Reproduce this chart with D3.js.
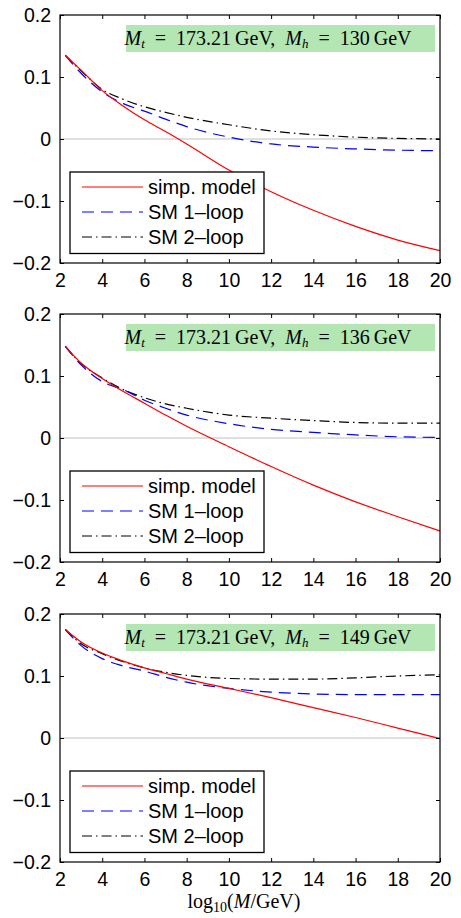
<!DOCTYPE html>
<html lang="en">
<head>
<meta charset="utf-8">
<title>Running couplings</title>
<script src="https://d3js.org/d3.v7.min.js"></script>
<style>
  body { margin: 0; background: #fff; }
  text { font-family: "Liberation Sans", Arial, sans-serif; }
  .serif { font-family: "Liberation Serif", "DejaVu Serif", serif; }
</style>
</head>
<body>
<div id="chart"></div>
<script>
// data
var logM = [2.25, 3, 4, 5, 6, 7, 8, 10, 12, 14, 16, 18, 20];

var simp130 = [0.135, 0.111, 0.078, 0.053, 0.031, 0.012, -0.008, -0.050, -0.085, -0.115, -0.141, -0.163, -0.180];
var sm1_130 = [0.135, 0.106, 0.076, 0.057, 0.045, 0.032, 0.020, 0.003, -0.008, -0.013, -0.016, -0.018, -0.019];
var sm2_130 = [0.135, 0.110, 0.080, 0.064, 0.052, 0.043, 0.035, 0.023, 0.013, 0.007, 0.003, 0.001, 0.000];

var simp136 = [0.148, 0.121, 0.096, 0.075, 0.056, 0.037, 0.019, -0.014, -0.046, -0.076, -0.103, -0.127, -0.150];
var sm1_136 = [0.148, 0.118, 0.091, 0.078, 0.061, 0.048, 0.037, 0.023, 0.014, 0.009, 0.005, 0.002, 0.001];
var sm2_136 = [0.148, 0.120, 0.097, 0.078, 0.065, 0.055, 0.048, 0.037, 0.032, 0.028, 0.025, 0.024, 0.024];

var simp149 = [0.175, 0.155, 0.137, 0.124, 0.113, 0.104, 0.095, 0.080, 0.065, 0.049, 0.033, 0.016, -0.001];
var sm1_149 = [0.175, 0.149, 0.128, 0.116, 0.108, 0.098, 0.090, 0.080, 0.074, 0.071, 0.070, 0.070, 0.070];
var sm2_149 = [0.175, 0.152, 0.136, 0.123, 0.113, 0.106, 0.101, 0.096, 0.095, 0.095, 0.097, 0.100, 0.102];

var higgsMasses = ["130", "136", "149"];
var topMass = "173.21";
var seriesNames = ["simp. model", "SM 1\u2013loop", "SM 2\u2013loop"];
var xTicks = [2, 4, 6, 8, 10, 12, 14, 16, 18, 20];
var yTicks = [-0.2, -0.1, 0, 0.1, 0.2];

var panels = [
  [simp130, sm1_130, sm2_130],
  [simp136, sm1_136, sm2_136],
  [simp149, sm1_149, sm2_149]
];

var colors = ["#ff0000", "#0000ff", "#000000"];
var dashes = ["none", "12,7", "10,4,1.5,4"];

var W = 461, H = 918;
var left = 60, right = 440, ph = 248;
var tops = [15, 314, 614];

var svg = d3.select("#chart").append("svg")
  .attr("width", W)
  .attr("height", H);

var x = d3.scaleLinear().domain([2, 20]).range([left, right]);

panels.forEach(function(series, p) {
  var top = tops[p];
  var y = d3.scaleLinear().domain([-0.2, 0.2]).range([top + ph, top]);
  var g = svg.append("g");

  // zero line
  g.append("line")
    .attr("x1", left).attr("x2", right)
    .attr("y1", y(0)).attr("y2", y(0))
    .style("stroke", "#c0c0c0").style("stroke-width", 1);

  var line = d3.line()
    .x(function(d) { return x(d[0]); })
    .y(function(d) { return y(d[1]); })
    .curve(d3.curveMonotoneX);

  // 2-loop first, simp model on top
  [2, 1, 0].forEach(function(k) {
    var pts = logM.map(function(m, i) { return [m, series[k][i]]; });
    g.append("path")
      .attr("d", line(pts))
      .style("fill", "none")
      .style("stroke", colors[k])
      .style("stroke-width", 1.2)
      .style("stroke-dasharray", dashes[k]);
  });

  // axes, ticks pointing inward on all sides
  var axB = d3.axisBottom(x).tickValues(xTicks).tickSizeInner(-4).tickSizeOuter(0).tickPadding(10);
  var axT = d3.axisTop(x).tickValues(xTicks).tickSizeInner(-4).tickSizeOuter(0).tickFormat("");
  var axL = d3.axisLeft(y).tickValues(yTicks).tickSizeInner(-4).tickSizeOuter(0).tickPadding(9)
    .tickFormat(function(d) { return d === 0 ? "0" : d3.format(".1f")(d).replace("-", "\u2212"); });
  var axR = d3.axisRight(y).tickValues(yTicks).tickSizeInner(-4).tickSizeOuter(0).tickFormat("");

  [
    g.append("g").attr("transform", "translate(0," + (top + ph) + ")").call(axB),
    g.append("g").attr("transform", "translate(0," + top + ")").call(axT),
    g.append("g").attr("transform", "translate(" + left + ",0)").call(axL),
    g.append("g").attr("transform", "translate(" + right + ",0)").call(axR)
  ].forEach(function(a) {
    a.select(".domain").remove();
    a.selectAll(".tick line").style("stroke", "#000");
    a.selectAll("text").attr("fill", "#000").style("font-size", "19.5px");
  });

  // frame
  g.append("rect")
    .attr("x", left).attr("y", top)
    .attr("width", right - left).attr("height", ph)
    .style("fill", "none").style("stroke", "#000").style("stroke-width", 1.2);

  // mass label
  g.append("rect")
    .attr("x", 126).attr("y", top + 10)
    .attr("width", 309).attr("height", 27)
    .style("fill", "#b3e6b3");
  var lab = g.append("text").attr("class", "serif")
    .attr("x", 268).attr("y", top + 30)
    .attr("text-anchor", "middle")
    .style("font-size", "20px").attr("fill", "#000");
  lab.append("tspan").style("font-style", "italic").text("M");
  lab.append("tspan").style("font-style", "italic").style("font-size", "13px").attr("dy", 3).text("t");
  lab.append("tspan").attr("dy", -3).text("\u2002=\u2002" + topMass + "\u2009GeV,\u2002");
  lab.append("tspan").style("font-style", "italic").text("M");
  lab.append("tspan").style("font-style", "italic").style("font-size", "13px").attr("dy", 3).text("h");
  lab.append("tspan").attr("dy", -3).text("\u2002=\u2002" + higgsMasses[p] + "\u2009GeV");

  // legend
  var lg = g.append("g").attr("transform", "translate(70," + (top + 157) + ")");
  lg.append("rect")
    .attr("width", 194).attr("height", 81.5)
    .style("fill", "#fff").style("stroke", "#000").style("stroke-width", 1.3);
  seriesNames.forEach(function(name, k) {
    var cy = 15 + k * 25;
    lg.append("path")
      .attr("d", "M12," + cy + "H73")
      .style("fill", "none")
      .style("stroke", colors[k])
      .style("stroke-width", 1.2)
      .style("stroke-dasharray", dashes[k]);
    lg.append("text")
      .attr("x", 78).attr("y", cy + 7)
      .attr("fill", "#000")
      .style("font-size", "20px")
      .text(name);
  });
});

// x axis title
var xTitle = svg.append("text").attr("class", "serif")
  .attr("x", 244).attr("y", 908)
  .attr("text-anchor", "middle")
  .style("font-size", "20px");
xTitle.append("tspan").text("log");
xTitle.append("tspan").style("font-size", "14px").attr("dy", 4).text("10");
xTitle.append("tspan").attr("dy", -4).text("(");
xTitle.append("tspan").style("font-style", "italic").text("M");
xTitle.append("tspan").text("/GeV)");
</script>
</body>
</html>
